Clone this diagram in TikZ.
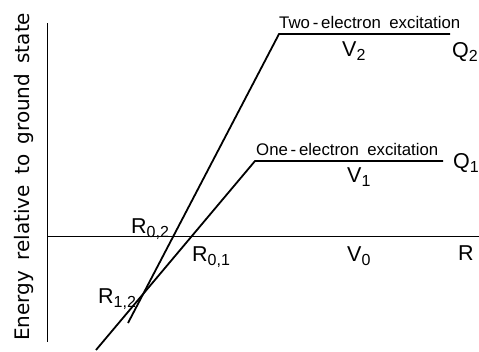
\documentclass[tikz,border=0pt]{standalone}
\usepackage{fontspec}
\setmainfont{Liberation Sans}
\newfontfamily\ylabfont{DejaVu Sans}
\newcommand{\sublab}[2]{#1\raisebox{-0.4ex}{\fontsize{16}{16}\selectfont #2}}
\tikzset{
  curve/.style={line width=1.8pt, line join=miter},
  axis/.style={line width=0.9pt},
  lab/.style={inner sep=0pt, anchor=base west, font=\fontsize{21.5}{22}\selectfont},
  title/.style={inner sep=0pt, anchor=base west, font=\fontsize{16.8}{17}\selectfont}
}
\begin{document}
\begin{tikzpicture}[x=1pt,y=-1pt]
\useasboundingbox (0,0) rectangle (479,351);
% axes
\coordinate (ytop) at (47,23);
\coordinate (ybot) at (47,342);
\coordinate (xorg) at (47,236);
\coordinate (xend) at (479,236);
\draw[axis] (ytop) -- (ybot);
\draw[axis] (xorg) -- (xend);
% curves
\coordinate (a2) at (128,323);
\coordinate (b2) at (279,34);
\coordinate (c2) at (450,34);
\coordinate (a1) at (96,350);
\coordinate (b1) at (255,161);
\coordinate (c1) at (443,161);
\draw[curve] (a2) -- (b2) -- (c2);
\draw[curve] (a1) -- (b1) -- (c1);
% labels
\node[title] (t2) at (279,28.3) {\makebox[184pt][s]{Two\,-\,electron\hspace{0.5em}excitation}};
\node[title] (t1) at (256,155.5) {\makebox[184pt][s]{One\,-\,electron\hspace{0.5em}excitation}};
\node[lab] (v2) at (342,56) {\sublab{V}{2}};
\node[lab] (q2) at (452,57) {\sublab{Q}{2}};
\node[lab] (v1) at (347,182) {\sublab{V}{1}};
\node[lab] (q1) at (453,168) {\sublab{Q}{1}};
\node[lab] (v0) at (347,261) {\sublab{V}{0}};
\node[lab] (r) at (458,260) {R};
\node[lab] (r02) at (131,233) {\sublab{R}{0,2}};
\node[lab] (r01) at (192,261) {\sublab{R}{0,1}};
\node[lab] (r12) at (98,303) {\sublab{R}{1,2}};
\node[inner sep=0pt, rotate=90, anchor=base west, font=\ylabfont\fontsize{20}{20}\selectfont] (ylab) at (29,341) {\makebox[328pt][s]{Energy relative to ground state}};
\end{tikzpicture}
\end{document}
